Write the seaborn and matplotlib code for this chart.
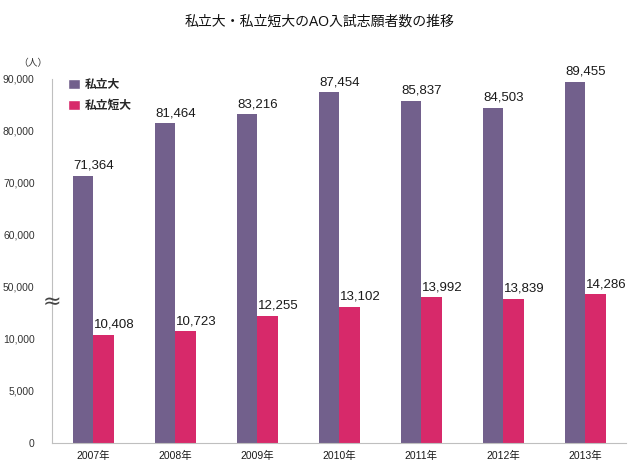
import matplotlib
matplotlib.use("Agg")
import matplotlib.pyplot as plt
import numpy as np
import pandas as pd
import seaborn as sns
from matplotlib.patches import Patch

# ---------------------------------------------------------------------------
# Data
# ---------------------------------------------------------------------------
years = ["2007年", "2008年", "2009年", "2010年", "2011年", "2012年", "2013年"]
univ_values = [71364, 81464, 83216, 87454, 85837, 84503, 89455]
junior_values = [10408, 10723, 12255, 13102, 13992, 13839, 14286]
series_names = ["私立大", "私立短大"]
tick_values = [0, 5000, 10000, 50000, 60000, 70000, 80000, 90000]

PURPLE = "#72608C"
PINK = "#D7296A"
AXIS_GRAY = "#BFBFBF"


def to_display(values):
    # broken axis: 0-15,000 at 5,000 per step, 50,000+ at 10,000 per step
    values = np.asarray(values, dtype=float)
    return np.where(values <= 15000, values / 5000, 3 + (values - 50000) / 10000)


sns.set_theme(style="white")
plt.rcParams["font.family"] = ["Liberation Sans", "Noto Sans CJK JP", "DejaVu Sans"]

bar_df = pd.DataFrame(
    {
        "year": years * 2,
        "series": [series_names[0]] * len(years) + [series_names[1]] * len(years),
        "value": univ_values + junior_values,
    }
)
bar_df["display"] = to_display(bar_df["value"])

fig = plt.figure(figsize=(6.4, 4.7), dpi=100)
ax = fig.add_axes([52 / 640, 27 / 470, 574 / 640, 364 / 470])

sns.barplot(
    data=bar_df,
    x="year",
    y="display",
    hue="series",
    palette=[PURPLE, PINK],
    width=0.5,
    saturation=1,
    linewidth=0,
    legend=False,
    ax=ax,
)

# value labels, left aligned at each bar's left edge
for container, values in zip(ax.containers, [univ_values, junior_values]):
    for patch, value in zip(container.patches, values):
        ax.text(
            patch.get_x() + 0.01,
            patch.get_height() + 0.08,
            f"{value:,}",
            ha="left",
            va="bottom",
            fontsize=9.5,
            color="#1a1a1a",
        )

ax.set_xlim(-0.5, len(years) - 0.5)
ax.set_ylim(0, 7)
ax.set_yticks(to_display(tick_values))
ax.set_yticklabels([f"{v:,}" for v in tick_values], fontsize=7.5, color="#333333")
ax.set_xticks(range(len(years)))
ax.set_xticklabels(years, fontsize=7.5, color="#1a1a1a")
ax.set_xticks(np.arange(-0.5, len(years)), minor=True)
ax.tick_params(axis="x", which="major", length=0, pad=6)
ax.tick_params(axis="x", which="minor", length=4, color=AXIS_GRAY, direction="out")
ax.tick_params(axis="y", length=5, color=AXIS_GRAY, direction="inout", pad=10)
ax.set_xlabel("")
ax.set_ylabel("")

for side in ["top", "right"]:
    ax.spines[side].set_visible(False)
for side in ["left", "bottom"]:
    ax.spines[side].set_color(AXIS_GRAY)
    ax.spines[side].set_linewidth(0.8)

# axis break mark
ax.text(-0.5, 2.72, "≈", ha="center", va="center", fontsize=16,
        color="#444444", family=["DejaVu Sans"])

legend_handles = [Patch(facecolor=PURPLE), Patch(facecolor=PINK)]
ax.legend(
    legend_handles,
    series_names,
    loc="upper left",
    bbox_to_anchor=(0.01, 1.03),
    frameon=False,
    prop={"size": 8.5, "weight": "bold"},
    handlelength=1.0,
    handleheight=0.9,
    handletextpad=0.4,
    labelspacing=0.8,
)

fig.text(0.5, 1 - 22 / 470, "私立大・私立短大のAO入試志願者数の推移",
         ha="center", va="center", fontsize=10, color="#111111")
fig.text(33 / 640, 1 - 63 / 470, "（人）", ha="center", va="center",
         fontsize=7, color="#333333")

fig.savefig("out.png", dpi=100)
